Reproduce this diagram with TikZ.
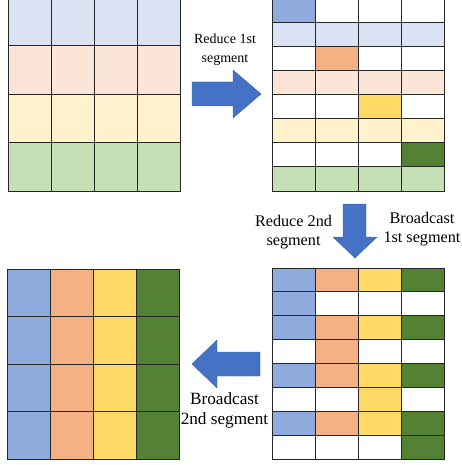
\documentclass[tikz,border=0pt]{standalone}
\usepackage{fontspec}
\setmainfont{Liberation Serif}

\definecolor{segblue}{HTML}{8FAADC}
\definecolor{segorange}{HTML}{F4B183}
\definecolor{segyellow}{HTML}{FFD966}
\definecolor{seggreen}{HTML}{548235}
\definecolor{lightblue}{HTML}{DAE3F3}
\definecolor{lightorange}{HTML}{FBE5D6}
\definecolor{lightyellow}{HTML}{FFF2CC}
\definecolor{lightgreen}{HTML}{C5E0B4}
\definecolor{arrowblue}{HTML}{4472C4}

\tikzset{
  cell/.style={draw=black!85, line width=0.9pt},
  bigarrow/.style={fill=arrowblue, draw=arrowblue!85!black, line width=0.4pt},
  caption/.style={align=center, font=\fontsize{14}{19}\selectfont},
  bigcaption/.style={align=center, font=\fontsize{16.2}{19}\selectfont}
}

\begin{document}
\begin{tikzpicture}[x=1pt, y=-1pt]
  \useasboundingbox (0,0) rectangle (461,465);
  \clip (0,0) rectangle (461,465);

  % start: every segment on every worker
  \foreach \col [count=\r] in {lightblue,lightorange,lightyellow,lightgreen}
    \foreach \i in {0,...,3}
      \filldraw[cell, fill=\col] ({8+43*\i},{-3+48.5*(\r-1)}) rectangle ++(43,48.5);

  % after reducing the 1st segment
  \foreach \col/\dark [count=\r] in {lightblue/segblue,lightorange/segorange,lightyellow/segyellow,lightgreen/seggreen}{
    \foreach \i in {0,...,3}{
      \filldraw[cell, fill=white] ({272+43*\i},{-2+48.25*(\r-1)}) rectangle ++(43,24.125);
      \filldraw[cell, fill=\col] ({272+43*\i},{22.125+48.25*(\r-1)}) rectangle ++(43,24.125);
    }
    \filldraw[cell, fill=\dark] ({272+43*(\r-1)},{-2+48.25*(\r-1)}) rectangle ++(43,24.125);
  }

  % after reducing the 2nd segment
  \foreach \colA/\colB/\colC/\colD [count=\r] in {
      segblue/segorange/segyellow/seggreen,
      segblue/white/white/white,
      segblue/segorange/segyellow/seggreen,
      white/segorange/white/white,
      segblue/segorange/segyellow/seggreen,
      white/white/segyellow/white,
      segblue/segorange/segyellow/seggreen,
      white/white/white/seggreen}{
    \filldraw[cell, fill=\colA] (272,{268+23.875*(\r-1)}) rectangle ++(43,23.875);
    \filldraw[cell, fill=\colB] (315,{268+23.875*(\r-1)}) rectangle ++(43,23.875);
    \filldraw[cell, fill=\colC] (358,{268+23.875*(\r-1)}) rectangle ++(43,23.875);
    \filldraw[cell, fill=\colD] (401,{268+23.875*(\r-1)}) rectangle ++(43,23.875);
  }

  % result
  \foreach \col [count=\k] in {segblue,segorange,segyellow,seggreen}
    \foreach \j in {0,...,3}
      \filldraw[cell, fill=\col] ({7+43*(\k-1)},{269+47.5*\j}) rectangle ++(43,47.5);

  % block arrows
  \filldraw[bigarrow] (192,82) -- (233,82) -- (233,70) -- (261,94)
    -- (233,118) -- (233,106) -- (192,106) -- cycle;
  \filldraw[bigarrow] (343,204) -- (366,204) -- (366,237) -- (377,237)
    -- (355,258) -- (333,237) -- (343,237) -- cycle;
  \filldraw[bigarrow] (260,352) -- (217,352) -- (217,340) -- (192,364)
    -- (217,388) -- (217,376) -- (260,376) -- cycle;

  \node[caption] (reduceA) at (225,49.5) {Reduce 1st\\segment};
  \node[bigcaption] (reduceB) at (293.5,232) {Reduce 2nd\\segment};
  \node[bigcaption] (bcastA) at (422,229) {Broadcast\\1st segment};
  \node[bigcaption, font=\fontsize{17.2}{19.5}\selectfont] (bcastB) at (224.5,410.5) {Broadcast\\2nd segment};
\end{tikzpicture}
\end{document}
